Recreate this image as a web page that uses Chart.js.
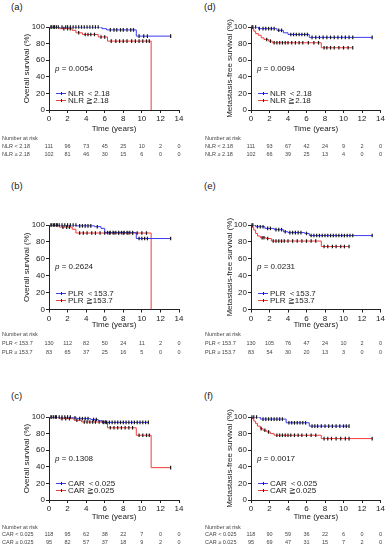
<!DOCTYPE html>
<html>
<head>
<meta charset="utf-8">
<script src="https://cdn.jsdelivr.net/npm/chart.js@4.4.1/dist/chart.umd.min.js"></script>
<style>
body { margin: 0; background: #fff; }
#fig { position: relative; width: 386px; height: 550px; overflow: hidden; }
#fig canvas { position: absolute; }
.lab { position: absolute; font: 9.5px "Liberation Sans", Arial, sans-serif; color: #222; line-height: 10px; }
</style>
</head>
<body>
<div id="fig"></div>
<script>
// x ticks used by the number-at-risk table
const years = [0, 2, 4, 6, 8, 10, 12, 14];

// (a) overall survival, NLR
const osNlrLowT = [0, 5.7, 6.2, 9.4, 13.1];
const osNlrLowS = [100, 98, 96.5, 89, 89];
const osNlrLowCens = [0.3, 0.6, 1.0, 1.4, 1.8, 2.0, 2.3, 2.6, 2.9, 3.2, 3.5, 3.8, 4.1, 4.4, 4.7, 5.0, 5.3, 6.6, 7.0, 7.3, 7.7, 8.0, 8.4, 8.8, 9.1, 9.7, 10.2, 10.6, 13.1];
const osNlrHighT = [0, 1.1, 2.5, 2.9, 3.6, 5.3, 6.3, 11.0];
const osNlrHighS = [100, 98, 96, 93, 91, 88, 83, 0];
const osNlrHighCens = [0.2, 0.5, 0.8, 1.6, 2.0, 2.3, 3.2, 3.9, 4.2, 4.5, 4.9, 5.6, 6.0, 6.7, 7.2, 7.6, 8.0, 8.4, 8.9, 9.3, 9.7, 10.1, 10.5, 10.8];
const osNlrRiskLow = [111, 96, 73, 45, 25, 10, 2, 0];
const osNlrRiskHigh = [102, 81, 46, 30, 15, 6, 0, 0];

// (d) metastasis-free survival, NLR
const mfsNlrLowT = [0, 0.8, 2.8, 3.5, 4.0, 6.3, 13.1];
const mfsNlrLowS = [100, 98, 96, 93, 91, 87.5, 87.5];
const mfsNlrLowCens = [0.2, 0.5, 0.9, 1.3, 1.6, 1.9, 2.2, 2.5, 3.0, 3.3, 4.3, 4.6, 4.9, 5.2, 5.5, 5.8, 6.1, 6.6, 7.0, 7.4, 7.8, 8.2, 8.6, 9.0, 9.4, 9.8, 10.2, 10.6, 11.0, 13.1];
const mfsNlrHighT = [0, 0.15, 0.3, 0.5, 0.8, 1.1, 1.4, 1.9, 2.3, 7.6, 11.0];
const mfsNlrHighS = [100, 98, 95, 92, 90, 87, 85, 83, 81, 75, 75];
const mfsNlrHighCens = [0.1, 1.7, 2.1, 2.5, 2.8, 3.1, 3.4, 3.7, 4.0, 4.4, 4.8, 5.2, 5.6, 6.2, 6.8, 7.3, 7.9, 8.2, 8.6, 9.0, 9.5, 10.0, 10.5, 11.0];
const mfsNlrRiskLow = [111, 93, 67, 42, 24, 9, 2, 0];
const mfsNlrRiskHigh = [102, 66, 39, 25, 13, 4, 0, 0];

// (b) overall survival, PLR
const osPlrLowT = [0, 3.0, 4.9, 5.6, 6.0, 9.4, 13.1];
const osPlrLowS = [100, 99, 98, 96, 91, 84, 84];
const osPlrLowCens = [0.2, 0.5, 0.8, 1.1, 1.4, 1.7, 2.0, 2.3, 2.6, 2.9, 3.3, 3.6, 3.9, 4.2, 4.5, 5.2, 6.3, 6.6, 6.9, 7.2, 7.5, 7.8, 8.1, 8.4, 8.7, 9.0, 9.7, 10.0, 10.3, 10.6, 13.1];
const osPlrHighT = [0, 1.1, 2.5, 2.9, 11.0];
const osPlrHighS = [100, 97.5, 95, 90.5, 0];
const osPlrHighCens = [0.3, 0.6, 0.9, 1.5, 1.9, 2.2, 3.3, 3.7, 4.1, 4.6, 5.0, 5.5, 6.0, 6.5, 7.0, 7.5, 8.0, 8.5, 9.0, 9.5, 10.0, 10.5];
const osPlrRiskLow = [130, 112, 82, 50, 24, 11, 2, 0];
const osPlrRiskHigh = [83, 65, 37, 25, 16, 5, 0, 0];

// (e) metastasis-free survival, PLR
const mfsPlrLowT = [0, 0.5, 1.5, 2.5, 3.5, 4.0, 5.8, 6.3, 13.1];
const mfsPlrLowS = [100, 98, 96, 94.5, 92, 91, 90, 87.5, 87.5];
const mfsPlrLowCens = [0.2, 0.7, 1.0, 1.3, 1.8, 2.1, 2.7, 3.0, 3.3, 3.7, 4.2, 4.5, 4.8, 5.1, 5.4, 6.0, 6.5, 6.8, 7.1, 7.4, 7.7, 8.0, 8.3, 8.6, 8.9, 9.2, 9.5, 9.8, 10.1, 10.4, 10.7, 11.0, 13.1];
const mfsPlrHighT = [0, 0.15, 0.3, 0.5, 0.7, 1.0, 1.6, 2.2, 7.6, 10.6];
const mfsPlrHighS = [100, 97, 94, 90, 87, 85, 84, 81, 74.5, 74.5];
const mfsPlrHighCens = [0.1, 1.2, 1.4, 1.8, 2.4, 2.7, 3.0, 3.3, 3.6, 4.0, 4.5, 5.0, 5.5, 6.0, 6.5, 7.0, 7.9, 8.3, 8.8, 9.2, 9.7, 10.1, 10.6];
const mfsPlrRiskLow = [130, 105, 76, 47, 24, 10, 2, 0];
const mfsPlrRiskHigh = [83, 54, 30, 20, 13, 3, 0, 0];

// (c) overall survival, CAR
const osCarLowT = [0, 2.5, 3.0, 4.5, 5.3, 5.7, 10.7];
const osCarLowS = [100, 99, 98, 97, 95.5, 93.5, 93.5];
const osCarLowCens = [0.2, 0.5, 0.8, 1.1, 1.4, 1.7, 2.0, 2.3, 2.8, 3.3, 3.6, 3.9, 4.2, 4.8, 5.1, 5.9, 6.2, 6.5, 6.8, 7.1, 7.4, 7.7, 8.0, 8.3, 8.6, 8.9, 9.2, 9.5, 9.8, 10.1, 10.4, 10.7];
const osCarHighT = [0, 1.1, 2.7, 3.5, 6.3, 9.4, 11.0, 13.1];
const osCarHighS = [100, 98, 96, 94, 87, 78, 39, 39];
const osCarHighCens = [0.3, 0.7, 1.4, 1.8, 2.2, 3.0, 3.8, 4.1, 4.4, 4.7, 5.0, 5.4, 5.8, 6.1, 6.6, 7.0, 7.4, 7.8, 8.2, 8.6, 9.0, 9.7, 10.1, 10.5, 10.8, 13.1];
const osCarRiskLow = [118, 95, 62, 38, 22, 7, 0, 0];
const osCarRiskHigh = [95, 82, 57, 37, 18, 9, 2, 0];

// (f) metastasis-free survival, CAR
const mfsCarLowT = [0, 1.0, 3.8, 6.3, 10.6];
const mfsCarLowS = [100, 97.5, 93, 89, 89];
const mfsCarLowCens = [0.3, 0.6, 1.3, 1.6, 1.9, 2.2, 2.5, 2.8, 3.1, 3.4, 4.1, 4.4, 4.7, 5.0, 5.3, 5.6, 5.9, 6.6, 6.9, 7.2, 7.6, 8.0, 8.4, 8.8, 9.2, 9.6, 10.0, 10.3, 10.6];
const mfsCarHighT = [0, 0.15, 0.3, 0.5, 0.7, 1.0, 1.3, 1.7, 2.1, 2.5, 7.6, 13.1];
const mfsCarHighS = [100, 98, 95, 92, 89, 86, 84, 82, 80, 78, 74, 74];
const mfsCarHighCens = [0.1, 1.1, 1.5, 1.9, 2.8, 3.1, 3.4, 3.7, 4.0, 4.3, 4.7, 5.1, 5.5, 6.0, 6.5, 7.0, 7.9, 8.3, 8.7, 9.2, 9.7, 10.2, 10.6, 13.1];
const mfsCarRiskLow = [118, 90, 59, 36, 22, 6, 0, 0];
const mfsCarRiskHigh = [95, 69, 47, 31, 15, 7, 2, 0];

const FAM = '"Liberation Sans", Arial, sans-serif';
const BLUE = '#3c3cf2';
const RED = '#f23c3c';
Chart.defaults.font.family = FAM;
Chart.defaults.font.size = 8;
Chart.defaults.color = '#222';

// layout of the three rows of panels (page pixels)
const rows = [
    { top: 15, h: 147, padBottom: 28, riskY: [123, 131, 139], titlePad: 0.5 },
    { top: 213, h: 147, padBottom: 26.5, riskY: [121, 130, 139], titlePad: 3.5 },
    { top: 405, h: 145, padBottom: 26, riskY: [122, 129.5, 137], titlePad: 2 }
];

// survival value of a step curve at time t (for placing censor ticks)
function survAt(t, times, surv) {
    let v = surv[0];
    for (let i = 0; i < times.length; i++) {
        if (times[i] <= t) v = surv[i];
    }
    return v;
}

function stepData(times, surv) {
    return times.map((t, i) => ({ x: t, y: surv[i] }));
}

function censData(cens, times, surv) {
    return cens.map(t => ({ x: t, y: survAt(t, times, surv) }));
}

// p value, legend and number-at-risk table
function extras(p) {
    return {
        id: 'extras',
        afterDraw(chart) {
            const { ctx, chartArea: a, scales: { x } } = chart;
            ctx.save();
            ctx.textBaseline = 'middle';
            ctx.textAlign = 'left';
            ctx.fillStyle = '#222';

            const py = a.bottom - 0.5 * a.height;
            ctx.font = 'italic 8px ' + FAM;
            ctx.fillText('p', a.left + 6, py);
            const pw = ctx.measureText('p').width;
            ctx.font = '8px ' + FAM;
            ctx.fillText(' = ' + p.pval, a.left + 6 + pw, py);

            p.legend.forEach((name, i) => {
                const ly = Math.round(a.bottom - (i ? 0.115 : 0.2) * a.height) + 0.5;
                ctx.lineWidth = 1;
                ctx.strokeStyle = i ? RED : BLUE;
                ctx.beginPath();
                ctx.moveTo(a.left + 7, ly);
                ctx.lineTo(a.left + 17, ly);
                ctx.stroke();
                ctx.strokeStyle = '#222';
                ctx.beginPath();
                ctx.moveTo(a.left + 12.5, ly - 1.5);
                ctx.lineTo(a.left + 12.5, ly + 1.5);
                ctx.stroke();
                ctx.fillText(name, a.left + 19, ly);
            });

            const r = p.row;
            ctx.font = '5.5px ' + FAM;
            ctx.fillStyle = '#444';
            ctx.fillText('Number at risk', p.labelX, r.riskY[0]);
            p.risk.forEach((line, k) => {
                ctx.textAlign = 'left';
                ctx.fillText(p.riskLabels[k], p.labelX, r.riskY[k + 1]);
                ctx.textAlign = 'center';
                line.forEach((n, i) => ctx.fillText(String(n), x.getPixelForValue(years[i]), r.riskY[k + 1]));
            });
            ctx.restore();
        }
    };
}

function makePanel(p) {
    const fig = document.getElementById('fig');
    const left = p.col === 0 ? 0 : 193;
    const r = p.row;

    const lab = document.createElement('div');
    lab.className = 'lab';
    lab.textContent = p.tag;
    lab.style.left = (left + 11) + 'px';
    lab.style.top = p.tagTop + 'px';
    fig.appendChild(lab);

    const cv = document.createElement('canvas');
    cv.width = 193;
    cv.height = r.h;
    cv.style.left = left + 'px';
    cv.style.top = r.top + 'px';
    fig.appendChild(cv);

    const censStyle = {
        showLine: false,
        pointStyle: 'line',
        rotation: 90,
        pointRadius: 1.8,
        pointBorderWidth: 1.2,
        pointBorderColor: '#1a1a1a',
        pointBackgroundColor: '#1a1a1a',
        clip: false
    };

    new Chart(cv, {
        type: 'line',
        data: {
            datasets: [
                Object.assign({ data: censData(p.lowCens, p.lowT, p.lowS) }, censStyle),
                Object.assign({ data: censData(p.highCens, p.highT, p.highS) }, censStyle),
                { data: stepData(p.lowT, p.lowS), borderColor: BLUE, borderWidth: 1, stepped: 'before', pointRadius: 0, fill: false },
                { data: stepData(p.highT, p.highS), borderColor: RED, borderWidth: 1, stepped: 'before', pointRadius: 0, fill: false }
            ]
        },
        options: {
            responsive: false,
            animation: false,
            devicePixelRatio: 1,
            events: [],
            layout: {
                padding: { top: 12, left: 0, right: p.col === 0 ? 14 : 5.5, bottom: r.padBottom }
            },
            plugins: { legend: { display: false }, tooltip: { enabled: false } },
            scales: {
                x: {
                    type: 'linear',
                    min: 0,
                    max: 14,
                    ticks: { stepSize: 2, padding: 1, maxRotation: 0 },
                    grid: { drawOnChartArea: false, tickLength: 3, color: '#222' },
                    border: { color: '#222' },
                    title: { display: true, text: 'Time (years)', font: { size: 8 }, padding: { top: 0, bottom: r.titlePad } },
                    afterFit: s => { s.height = 24; }
                },
                y: {
                    min: 0,
                    max: 100,
                    ticks: { stepSize: 20, padding: 1 },
                    grid: { drawOnChartArea: false, tickLength: 3, color: '#222' },
                    border: { color: '#222' },
                    title: { display: true, text: p.ytitle, font: { size: 8 }, padding: { top: p.col === 0 ? 21.5 : 31.5, bottom: 0 } },
                    afterFit: s => { s.width = p.col === 0 ? 49 : 58; }
                }
            }
        },
        plugins: [extras(p)]
    });
}

const OS = 'Overall survival (%)';
const MFS = 'Metastasis-free survival (%)';

makePanel({ tag: '(a)', tagTop: 2, col: 0, row: rows[0], ytitle: OS, pval: '0.0054', labelX: 2,
    lowT: osNlrLowT, lowS: osNlrLowS, lowCens: osNlrLowCens, highT: osNlrHighT, highS: osNlrHighS, highCens: osNlrHighCens,
    legend: ['NLR ＜2.18', 'NLR ≧2.18'], riskLabels: ['NLR < 2.18', 'NLR ≥ 2.18'], risk: [osNlrRiskLow, osNlrRiskHigh] });
makePanel({ tag: '(d)', tagTop: 2, col: 1, row: rows[0], ytitle: MFS, pval: '0.0094', labelX: 12,
    lowT: mfsNlrLowT, lowS: mfsNlrLowS, lowCens: mfsNlrLowCens, highT: mfsNlrHighT, highS: mfsNlrHighS, highCens: mfsNlrHighCens,
    legend: ['NLR ＜2.18', 'NLR ≧2.18'], riskLabels: ['NLR < 2.18', 'NLR ≥ 2.18'], risk: [mfsNlrRiskLow, mfsNlrRiskHigh] });
makePanel({ tag: '(b)', tagTop: 181, col: 0, row: rows[1], ytitle: OS, pval: '0.2624', labelX: 2,
    lowT: osPlrLowT, lowS: osPlrLowS, lowCens: osPlrLowCens, highT: osPlrHighT, highS: osPlrHighS, highCens: osPlrHighCens,
    legend: ['PLR ＜153.7', 'PLR ≧153.7'], riskLabels: ['PLR < 153.7', 'PLR ≥ 153.7'], risk: [osPlrRiskLow, osPlrRiskHigh] });
makePanel({ tag: '(e)', tagTop: 181, col: 1, row: rows[1], ytitle: MFS, pval: '0.0231', labelX: 12,
    lowT: mfsPlrLowT, lowS: mfsPlrLowS, lowCens: mfsPlrLowCens, highT: mfsPlrHighT, highS: mfsPlrHighS, highCens: mfsPlrHighCens,
    legend: ['PLR ＜153.7', 'PLR ≧153.7'], riskLabels: ['PLR < 153.7', 'PLR ≥ 153.7'], risk: [mfsPlrRiskLow, mfsPlrRiskHigh] });
makePanel({ tag: '(c)', tagTop: 391, col: 0, row: rows[2], ytitle: OS, pval: '0.1308', labelX: 2,
    lowT: osCarLowT, lowS: osCarLowS, lowCens: osCarLowCens, highT: osCarHighT, highS: osCarHighS, highCens: osCarHighCens,
    legend: ['CAR ＜0.025', 'CAR ≧0.025'], riskLabels: ['CAR < 0.025', 'CAR ≥ 0.025'], risk: [osCarRiskLow, osCarRiskHigh] });
makePanel({ tag: '(f)', tagTop: 391, col: 1, row: rows[2], ytitle: MFS, pval: '0.0017', labelX: 12,
    lowT: mfsCarLowT, lowS: mfsCarLowS, lowCens: mfsCarLowCens, highT: mfsCarHighT, highS: mfsCarHighS, highCens: mfsCarHighCens,
    legend: ['CAR ＜0.025', 'CAR ≧0.025'], riskLabels: ['CAR < 0.025', 'CAR ≥ 0.025'], risk: [mfsCarRiskLow, mfsCarRiskHigh] });
</script>
</body>
</html>
